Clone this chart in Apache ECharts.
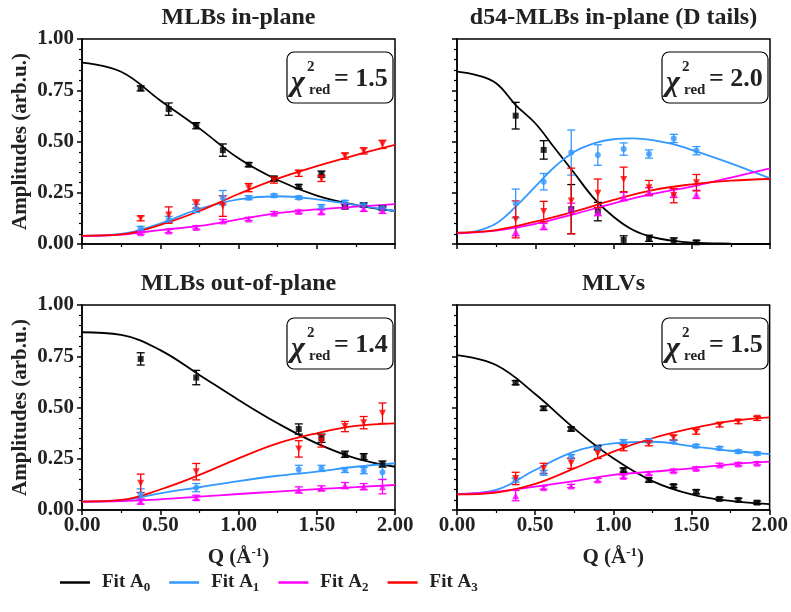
<!DOCTYPE html>
<html><head><meta charset="utf-8">
<script src="https://cdn.jsdelivr.net/npm/echarts@6/dist/echarts.min.js"></script>
<style>html,body{margin:0;padding:0;background:#fff}#c{width:791px;height:612px}</style>
</head><body><div id="c"></div>
<script>
// ---------- data ----------
const TITLES = ['MLBs in-plane', 'd54-MLBs in-plane (D tails)', 'MLBs out-of-plane', 'MLVs'];
const CHI = ['1.5', '2.0', '1.4', '1.5'];
const X_TICKS = [0, 0.5, 1.0, 1.5, 2.0];
const Y_TICKS = [0, 0.25, 0.5, 0.75, 1.0];
const SERIES_NAMES = ['Fit A0', 'Fit A1', 'Fit A2', 'Fit A3'];

const Q_ALL = [0.375, 0.554, 0.73, 0.90, 1.065, 1.227, 1.385, 1.53, 1.68, 1.80, 1.92];
const Q_TR  = [0.375, 0.554, 0.73, 0.90, 1.065, 1.227, 1.385, 1.53];
const Q_BL  = [0.375, 0.73, 1.385, 1.53, 1.68, 1.80, 1.92];
const FIT_Q = [0, 0.25, 0.5, 0.75, 1.0, 1.25, 1.5, 1.75, 2.0];
const FIT_Q_FINE = [0, 0.125, 0.25, 0.375, 0.5, 0.625, 0.75, 0.875, 1.0, 1.125, 1.25, 1.375, 1.5, 1.75, 2.0];

// Top-left: MLBs in-plane
const TL_A0 = [0.759, 0.658, 0.577, 0.458, 0.387, 0.319, 0.280, 0.341, 0.182, 0.190, 0.174];
const TL_A0_ERR = [0.012, 0.03, 0.015, 0.03, 0.01, 0.012, 0.01, 0.015, 0.01, 0.01, 0.01];
const TL_A1 = [0.076, 0.120, 0.174, 0.226, 0.226, 0.236, 0.226, 0.182, 0.203, 0.190, 0.174];
const TL_A1_ERR = [0.01, 0.015, 0.02, 0.035, 0.01, 0.008, 0.008, 0.01, 0.01, 0.01, 0.01];
const TL_A2 = [0.055, 0.063, 0.081, 0.112, 0.122, 0.150, 0.158, 0.156, 0.185, 0.174, 0.164];
const TL_A2_ERR = [0.008, 0.008, 0.008, 0.008, 0.008, 0.008, 0.008, 0.01, 0.01, 0.015, 0.015];
const TL_A3 = [0.125, 0.141, 0.195, 0.185, 0.275, 0.312, 0.345, 0.320, 0.429, 0.454, 0.486];
const TL_A3_ERR = [0.012, 0.04, 0.02, 0.05, 0.02, 0.015, 0.015, 0.015, 0.015, 0.015, 0.02];
const TL_A0_FIT = [0.885, 0.840, 0.700, 0.564, 0.418, 0.312, 0.236, 0.190, 0.161];
const TL_A1_FIT = [0.040, 0.049, 0.100, 0.171, 0.218, 0.233, 0.218, 0.190, 0.161];
const TL_A2_FIT = [0.040, 0.046, 0.068, 0.088, 0.120, 0.151, 0.169, 0.182, 0.195];
const TL_A3_FIT = [0.040, 0.047, 0.093, 0.161, 0.244, 0.319, 0.380, 0.434, 0.483];

// Top-right: d54-MLBs in-plane (D tails)
const TR_A0 = [0.626, 0.459, 0.170, 0.158, 0.020, 0.028, 0.015, 0.008];
const TR_A0_ERR = [0.065, 0.045, 0.12, 0.045, 0.02, 0.015, 0.015, 0.01];
const TR_A1 = [0.198, 0.304, 0.446, 0.434, 0.463, 0.439, 0.515, 0.455];
const TR_A1_ERR = [0.07, 0.04, 0.11, 0.05, 0.03, 0.02, 0.02, 0.02];
const TR_A2 = [0.060, 0.085, 0.174, 0.158, 0.231, 0.255, 0.247, 0.242];
const TR_A2_ERR = [0.02, 0.015, 0.025, 0.02, 0.02, 0.02, 0.02, 0.02];
const TR_A3 = [0.120, 0.158, 0.210, 0.247, 0.315, 0.275, 0.236, 0.299];
const TR_A3_ERR = [0.09, 0.05, 0.16, 0.07, 0.06, 0.035, 0.035, 0.04];
const TR_A0_FIT = [0.841, 0.824, 0.784, 0.678, 0.589, 0.467, 0.345, 0.223, 0.133, 0.068, 0.033, 0.016, 0.007, 0.002, 0.000];
const TR_A1_FIT = [0.052, 0.063, 0.100, 0.182, 0.280, 0.377, 0.450, 0.491, 0.511, 0.515, 0.507, 0.488, 0.459, 0.393, 0.320];
const TR_A2_FIT = [0.052, 0.065, 0.098, 0.146, 0.198, 0.244, 0.280, 0.324, 0.369];
const TR_A3_FIT = [0.055, 0.068, 0.109, 0.158, 0.215, 0.263, 0.291, 0.309, 0.317];

// Bottom-left: MLBs out-of-plane
const BL_A0 = [0.737, 0.646, 0.395, 0.350, 0.272, 0.260, 0.224];
const BL_A0_ERR = [0.03, 0.035, 0.025, 0.02, 0.015, 0.015, 0.015];
const BL_A1 = [0.078, 0.109, 0.198, 0.203, 0.195, 0.192, 0.184];
const BL_A1_ERR = [0.025, 0.02, 0.02, 0.015, 0.012, 0.015, 0.035];
const BL_A2 = [0.041, 0.060, 0.098, 0.106, 0.119, 0.114, 0.114];
const BL_A2_ERR = [0.012, 0.012, 0.015, 0.012, 0.015, 0.015, 0.035];
const BL_A3 = [0.130, 0.187, 0.298, 0.337, 0.407, 0.426, 0.472];
const BL_A3_ERR = [0.045, 0.04, 0.04, 0.03, 0.025, 0.03, 0.05];
const BL_A0_FIT = [0.867, 0.854, 0.780, 0.659, 0.537, 0.423, 0.325, 0.252, 0.211];
const BL_A1_FIT = [0.041, 0.047, 0.081, 0.111, 0.141, 0.167, 0.187, 0.211, 0.228];
const BL_A2_FIT = [0.041, 0.044, 0.052, 0.065, 0.078, 0.090, 0.102, 0.112, 0.122];
const BL_A3_FIT = [0.041, 0.049, 0.100, 0.171, 0.252, 0.325, 0.374, 0.410, 0.423];

// Bottom-right: MLVs
const BR_A0 = [0.621, 0.496, 0.395, 0.304, 0.195, 0.146, 0.117, 0.089, 0.054, 0.049, 0.036];
const BR_A0_ERR = [0.01, 0.01, 0.01, 0.01, 0.01, 0.01, 0.008, 0.01, 0.008, 0.008, 0.008];
const BR_A1 = [0.146, 0.182, 0.260, 0.301, 0.333, 0.338, 0.333, 0.312, 0.301, 0.285, 0.276];
const BR_A1_ERR = [0.01, 0.012, 0.01, 0.01, 0.01, 0.01, 0.008, 0.008, 0.008, 0.008, 0.008];
const BR_A2 = [0.070, 0.109, 0.117, 0.146, 0.163, 0.179, 0.192, 0.203, 0.220, 0.224, 0.228];
const BR_A2_ERR = [0.025, 0.008, 0.008, 0.008, 0.008, 0.008, 0.008, 0.008, 0.008, 0.008, 0.008];
const BR_A3 = [0.154, 0.203, 0.228, 0.276, 0.304, 0.325, 0.353, 0.382, 0.415, 0.431, 0.447];
const BR_A3_ERR = [0.03, 0.025, 0.025, 0.025, 0.015, 0.012, 0.012, 0.012, 0.01, 0.01, 0.01];
const BR_A0_FIT = [0.756, 0.707, 0.566, 0.398, 0.252, 0.141, 0.076, 0.044, 0.029];
const BR_A1_FIT = [0.078, 0.098, 0.195, 0.285, 0.325, 0.333, 0.312, 0.289, 0.273];
const BR_A2_FIT = [0.076, 0.089, 0.114, 0.141, 0.171, 0.187, 0.203, 0.223, 0.236];
const BR_A3_FIT = [0.076, 0.085, 0.127, 0.203, 0.285, 0.350, 0.398, 0.434, 0.452];

// ---------- layout / style ----------
const GRIDS = [
  {left: 82, top: 39, width: 313, height: 205},
  {left: 457, top: 39, width: 313, height: 205},
  {left: 82, top: 305, width: 313, height: 205},
  {left: 457, top: 305, width: 313, height: 205}
];
const COLORS = ['#000000', '#3399ff', '#ff00ff', '#ff0000'];
const SYMS = [
  {symbol: 'rect', rotate: 0, size: 6},
  {symbol: 'circle', rotate: 0, size: 6},
  {symbol: 'triangle', rotate: 0, size: 7},
  {symbol: 'triangle', rotate: 180, size: 7}
];
const FONT = '"Liberation Serif", "Times New Roman", serif';

const PANELS = [
  {q: Q_ALL, pts: [TL_A0, TL_A1, TL_A2, TL_A3], err: [TL_A0_ERR, TL_A1_ERR, TL_A2_ERR, TL_A3_ERR],
   fitQ: [FIT_Q, FIT_Q, FIT_Q, FIT_Q], fit: [TL_A0_FIT, TL_A1_FIT, TL_A2_FIT, TL_A3_FIT]},
  {q: Q_TR, pts: [TR_A0, TR_A1, TR_A2, TR_A3], err: [TR_A0_ERR, TR_A1_ERR, TR_A2_ERR, TR_A3_ERR],
   fitQ: [FIT_Q_FINE, FIT_Q_FINE, FIT_Q, FIT_Q], fit: [TR_A0_FIT, TR_A1_FIT, TR_A2_FIT, TR_A3_FIT]},
  {q: Q_BL, pts: [BL_A0, BL_A1, BL_A2, BL_A3], err: [BL_A0_ERR, BL_A1_ERR, BL_A2_ERR, BL_A3_ERR],
   fitQ: [FIT_Q, FIT_Q, FIT_Q, FIT_Q], fit: [BL_A0_FIT, BL_A1_FIT, BL_A2_FIT, BL_A3_FIT]},
  {q: Q_ALL, pts: [BR_A0, BR_A1, BR_A2, BR_A3], err: [BR_A0_ERR, BR_A1_ERR, BR_A2_ERR, BR_A3_ERR],
   fitQ: [FIT_Q, FIT_Q, FIT_Q, FIT_Q], fit: [BR_A0_FIT, BR_A1_FIT, BR_A2_FIT, BR_A3_FIT]}
];

function errRender(color) {
  return function (params, api) {
    const x = api.value(0), y = api.value(1), e = api.value(2);
    const t = api.coord([x, y + e]), b = api.coord([x, y - e]);
    const hw = 4, st = {stroke: color, lineWidth: 1.3};
    return {type: 'group', children: [
      {type: 'line', shape: {x1: t[0], y1: t[1], x2: b[0], y2: b[1]}, style: st},
      {type: 'line', shape: {x1: t[0] - hw, y1: t[1], x2: t[0] + hw, y2: t[1]}, style: st},
      {type: 'line', shape: {x1: b[0] - hw, y1: b[1], x2: b[0] + hw, y2: b[1]}, style: st}
    ]};
  };
}

const xAxes = [], yAxes = [], series = [], graphics = [];
GRIDS.forEach((g, i) => {
  const bottom = i >= 2, left = i % 2 === 0;
  xAxes.push({
    type: 'value', gridIndex: i, min: X_TICKS[0], max: X_TICKS[X_TICKS.length - 1], interval: 0.5,
    axisLine: {show: true, onZero: false, lineStyle: {color: '#000', width: 1.5}},
    axisTick: {show: true, inside: false, length: 5, lineStyle: {color: '#000', width: 1.5}},
    minorTick: {show: true, splitNumber: 2, length: 3, lineStyle: {color: '#000', width: 1.2}},
    splitLine: {show: false},
    axisLabel: {show: bottom, margin: 5, color: '#222', fontSize: 21, fontWeight: 'bold', fontFamily: FONT,
      formatter: v => v.toFixed(2)},
    name: bottom ? 'Q (Å{sup|-1})' : '', nameLocation: 'middle', nameGap: 36,
    nameTextStyle: {color: '#222', fontSize: 21, fontWeight: 'bold', fontFamily: FONT,
      rich: {sup: {fontSize: 13, fontWeight: 'bold', fontFamily: FONT, color: '#222', padding: [0, 0, 10, 0]}}}
  });
  yAxes.push({
    type: 'value', gridIndex: i, min: Y_TICKS[0], max: Y_TICKS[Y_TICKS.length - 1], interval: 0.25,
    axisLine: {show: true, onZero: false, lineStyle: {color: '#000', width: 1.5}},
    axisTick: {show: true, inside: false, length: 5, lineStyle: {color: '#000', width: 1.5}},
    minorTick: {show: true, splitNumber: 5, length: 3, lineStyle: {color: '#000', width: 1.2}},
    splitLine: {show: false},
    axisLabel: {show: left, margin: 8, color: '#222', fontSize: 21, fontWeight: 'bold', fontFamily: FONT,
      formatter: v => v.toFixed(2)},
    name: left ? 'Amplitudes (arb.u.)' : '', nameLocation: 'middle', nameGap: 51,
    nameTextStyle: {color: '#222', fontSize: 21, fontWeight: 'bold', fontFamily: FONT}
  });
  const P = PANELS[i];
  for (let k = 0; k < 4; k++) {
    series.push({
      name: SERIES_NAMES[k], type: 'line', xAxisIndex: i, yAxisIndex: i, smooth: 0.4,
      symbol: 'none', showSymbol: false, z: 2,
      lineStyle: {color: COLORS[k], width: 1.8}, itemStyle: {color: COLORS[k]},
      data: P.fitQ[k].map((q, j) => [q, P.fit[k][j]])
    });
  }
  for (let k = 0; k < 4; k++) {
    series.push({
      type: 'custom', xAxisIndex: i, yAxisIndex: i, z: 3, clip: true,
      renderItem: errRender(COLORS[k]),
      encode: {x: 0, y: 1},
      data: P.q.map((q, j) => [q, P.pts[k][j], P.err[k][j]])
    });
    series.push({
      type: 'scatter', xAxisIndex: i, yAxisIndex: i, z: 4,
      symbol: SYMS[k].symbol, symbolRotate: SYMS[k].rotate, symbolSize: SYMS[k].size,
      itemStyle: {color: COLORS[k]},
      data: P.q.map((q, j) => [q, P.pts[k][j]])
    });
  }
  // title
  graphics.push({type: 'text', x: g.left + g.width / 2, y: g.top - 21, z: 10,
    style: {text: TITLES[i], align: 'center', verticalAlign: 'middle', fill: '#222',
      fontSize: 24, fontWeight: 'bold', fontFamily: FONT}});
  // chi box
  const bx = g.left + g.width - 108, by = g.top + 13;
  graphics.push({type: 'rect', x: bx, y: by, z: 10,
    shape: {width: 106, height: 51, r: 7}, style: {fill: '#fff', stroke: '#000', lineWidth: 1.2}});
  graphics.push({type: 'text', x: bx + 4, y: by + 31, z: 11,
    style: {text: 'χ', align: 'left', verticalAlign: 'middle', fill: '#222', fontSize: 30, fontWeight: 'bold', fontStyle: 'italic', fontFamily: FONT}});
  graphics.push({type: 'text', x: bx + 20, y: by + 15, z: 11,
    style: {text: '2', align: 'left', verticalAlign: 'middle', fill: '#222', fontSize: 15, fontWeight: 'bold', fontFamily: FONT}});
  graphics.push({type: 'text', x: bx + 22, y: by + 38, z: 11,
    style: {text: 'red', align: 'left', verticalAlign: 'middle', fill: '#222', fontSize: 15, fontWeight: 'bold', fontFamily: FONT}});
  graphics.push({type: 'text', x: bx + 47, y: by + 27, z: 11,
    style: {text: '= ' + CHI[i], align: 'left', verticalAlign: 'middle', fill: '#222', fontSize: 26, fontWeight: 'bold', fontFamily: FONT}});
});

const chart = echarts.init(document.getElementById('c'), null, {renderer: 'canvas'});
chart.setOption({
  animation: false,
  backgroundColor: '#fff',
  grid: GRIDS.map(g => Object.assign({show: true, borderColor: '#000', borderWidth: 1.5, backgroundColor: 'transparent'}, g)),
  xAxis: xAxes,
  yAxis: yAxes,
  legend: {
    data: SERIES_NAMES.map(n => ({name: n, icon: 'rect'})),
    left: 55, top: 568, itemWidth: 30, itemHeight: 2.5, itemGap: 19,
    formatter: n => 'Fit A{s|' + n.slice(-1) + '}',
    textStyle: {color: '#222', fontSize: 19, fontWeight: 'bold', fontFamily: FONT, padding: [0, 0, 0, 7],
      rich: {s: {fontSize: 13, fontWeight: 'bold', fontFamily: FONT, color: '#222', padding: [10, 0, 0, 0]}}}
  },
  graphic: graphics,
  series: series
});
</script>
</body></html>
